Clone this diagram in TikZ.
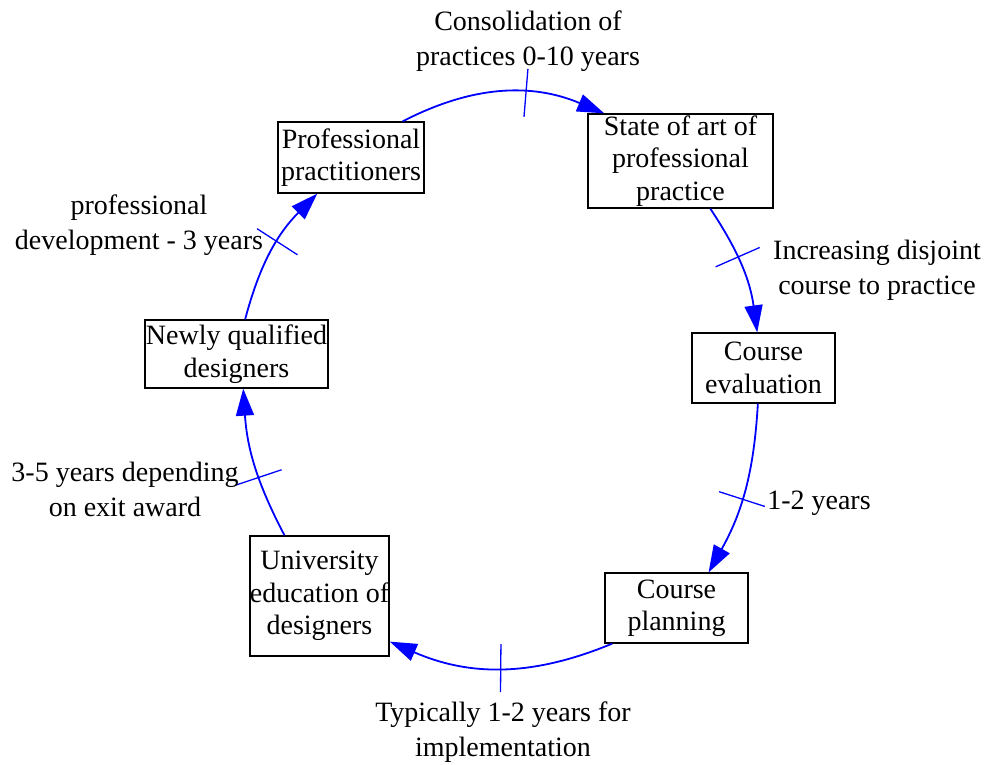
\documentclass[tikz,border=0pt]{standalone}
\usepackage{fontspec}
\setmainfont{Liberation Serif}
\usetikzlibrary{arrows.meta}
\begin{document}
\begin{tikzpicture}[x=1pt,y=-1pt,
  every node/.style={inner sep=0pt, align=center},
  stock/.style={draw=black, line width=1.3pt, fill=white,
    font=\fontsize{28}{32.5}\selectfont},
  note/.style={font=\fontsize{28}{35}\selectfont},
  link/.style={draw=blue, line width=1.8pt,
    -{Triangle[length=27pt,width=18pt]}},
  delay/.style={draw=blue, line width=1.3pt, shape=rectangle, sloped,
    minimum width=0pt, minimum height=48pt, inner sep=0pt}
]
\useasboundingbox (0,0) rectangle (985,765);

% stocks of the loop
\node[stock, minimum width=146pt, minimum height=71pt] (pp) at (351,157.5) {Professional\\practitioners};
\node[stock, minimum width=185pt, minimum height=94pt] (sa) at (680.5,161) {State of art of\\professional\\practice};
\node[stock, minimum width=143pt, minimum height=70pt] (ce) at (763.5,368) {Course\\evaluation};
\node[stock, minimum width=143pt, minimum height=70pt] (cp) at (676.5,608) {Course\\planning};
\node[stock, minimum width=139pt, minimum height=120pt] (ue) at (319.5,596) {University\\education of\\designers};
\node[stock, minimum width=183pt, minimum height=68pt] (nq) at (236.5,354) {Newly qualified\\designers};

% delayed links, clockwise
\draw[link] (pp.35) to[bend left=25] node[delay, pos=0.62] {} (sa.148);
\draw[link] (sa.-58) to[bend left=13] node[delay, pos=0.41] {} (ce.100);
\draw[link] (ce.-99) to[bend left=13] node[delay, pos=0.55] {} (cp.48);
\draw[link] (cp.-151.5) to[bend left=23] node[delay, pos=0.5] {} (ue.-33);
\draw[link] (ue.120) to[bend left=12] node[delay, pos=0.405] {} (nq.-79);
\draw[link] (nq.76) to[bend left=15] node[delay, pos=0.58] {} (pp.-133);

% delay descriptions
\node[note] (lcons) at (528,41) {Consolidation of\\practices 0-10 years};
\node[note] (lincr) at (877,270) {Increasing disjoint\\course to practice};
\node[note] (lonetwo) at (819,503) {1-2 years};
\node[note] (ltyp) at (503,732) {Typically 1-2 years for\\implementation};
\node[note] (lexit) at (125,489) {3-5 years depending\\on exit award};
\node[note] (lprof) at (139,225) {professional\\development - 3 years};
\end{tikzpicture}
\end{document}
